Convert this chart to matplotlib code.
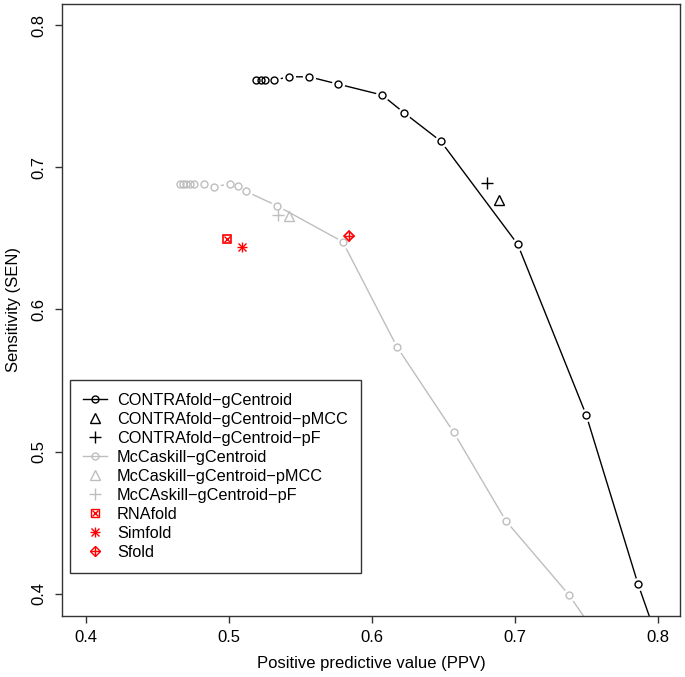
import matplotlib
matplotlib.use("Agg")
import matplotlib.pyplot as plt
from matplotlib.lines import Line2D
from matplotlib.legend_handler import HandlerTuple

plt.rcParams['font.family'] = ['Liberation Sans', 'DejaVu Sans']

# CONTRAfold-gCentroid curve (PPV, SEN)
contra_ppv = [0.5189, 0.5224, 0.5252, 0.5315, 0.542, 0.556, 0.5762, 0.607, 0.6224, 0.648, 0.7019, 0.7497, 0.786, 0.801]
contra_sen = [0.7613, 0.7613, 0.7613, 0.7613, 0.7636, 0.7636, 0.7585, 0.7508, 0.7383, 0.7184, 0.6458, 0.526, 0.407, 0.364]
contra_pmcc = (0.689, 0.677)
contra_pf = (0.6802, 0.6891)

# McCaskill-gCentroid curve
mcc_ppv = [0.4657, 0.4678, 0.4699, 0.4727, 0.4755, 0.4827, 0.4895, 0.5007, 0.506, 0.5119, 0.5336, 0.5795, 0.6175, 0.657, 0.6937, 0.7378, 0.759]
mcc_sen = [0.6882, 0.6882, 0.6882, 0.6882, 0.6882, 0.6882, 0.6863, 0.6882, 0.687, 0.683, 0.6729, 0.6476, 0.5736, 0.5138, 0.4512, 0.3992, 0.368]
mcc_pmcc = (0.5417, 0.666)
mcc_pf = (0.534, 0.6665)

rnafold = (0.4988, 0.6495)
simfold = (0.5089, 0.6441)
sfold = (0.5839, 0.6516)

labels = ["CONTRAfold\u2212gCentroid", "CONTRAfold\u2212gCentroid\u2212pMCC", "CONTRAfold\u2212gCentroid\u2212pF",
          "McCaskill\u2212gCentroid", "McCaskill\u2212gCentroid\u2212pMCC", "McCAskill\u2212gCentroid\u2212pF",
          "RNAfold", "Simfold", "Sfold"]

GRAY = "#BEBEBE"
RED = "#FF0000"

fig = plt.figure(figsize=(6.85, 6.77), dpi=100)
ax = fig.add_axes([62/685, 61/677, 618/685, 612/677])

ms = 5
# lines
ax.plot(contra_ppv, contra_sen, color="black", lw=1.0, zorder=2)
ax.plot(mcc_ppv, mcc_sen, color=GRAY, lw=1.0, zorder=2)
# white masks to create gaps like R type="b"
ax.plot(contra_ppv, contra_sen, ls="none", marker="o", ms=9.5, mfc="white", mec="none", zorder=3)
ax.plot(mcc_ppv, mcc_sen, ls="none", marker="o", ms=9.5, mfc="white", mec="none", zorder=3)
# markers
ax.plot(contra_ppv, contra_sen, ls="none", marker="o", ms=ms, mfc="none", mec="black", mew=1.0, zorder=4)
ax.plot(mcc_ppv, mcc_sen, ls="none", marker="o", ms=ms, mfc="none", mec=GRAY, mew=1.0, zorder=4)

ax.plot([contra_pmcc[0]], [contra_pmcc[1]], ls="none", marker="^", ms=6.5, mfc="none", mec="black", mew=1.0, zorder=4)
ax.plot([contra_pf[0]], [contra_pf[1]], ls="none", marker="+", ms=8, mec="black", mew=1.0, zorder=4)
ax.plot([mcc_pmcc[0]], [mcc_pmcc[1]], ls="none", marker="^", ms=6.5, mfc="none", mec=GRAY, mew=1.0, zorder=4)
ax.plot([mcc_pf[0]], [mcc_pf[1]], ls="none", marker="+", ms=8, mec=GRAY, mew=1.0, zorder=4)

# RNAfold: square with cross
ax.plot([rnafold[0]], [rnafold[1]], ls="none", marker="s", ms=5.5, mfc="none", mec=RED, mew=1.2, zorder=5)
ax.plot([rnafold[0]], [rnafold[1]], ls="none", marker="x", ms=4, mec=RED, mew=1.0, zorder=5)
# Simfold: asterisk
ax.plot([simfold[0]], [simfold[1]], ls="none", marker="+", ms=7, mec=RED, mew=1.0, zorder=5)
ax.plot([simfold[0]], [simfold[1]], ls="none", marker="x", ms=5.5, mec=RED, mew=1.0, zorder=5)
# Sfold: diamond with plus
ax.plot([sfold[0]], [sfold[1]], ls="none", marker="D", ms=5.5, mfc="none", mec=RED, mew=1.2, zorder=5)
ax.plot([sfold[0]], [sfold[1]], ls="none", marker="+", ms=7, mec=RED, mew=1.0, zorder=5)

ax.set_xlim(0.3832, 0.8154)
ax.set_ylim(0.3844, 0.8148)
ax.set_xticks([0.4, 0.5, 0.6, 0.7, 0.8])
ax.set_yticks([0.4, 0.5, 0.6, 0.7, 0.8])
ax.set_xticklabels(["0.4", "0.5", "0.6", "0.7", "0.8"])
ax.set_yticklabels(["0.4", "0.5", "0.6", "0.7", "0.8"], rotation=90, va="center")
ax.tick_params(direction="out", length=5, width=1, labelsize=12, color="#333333")
ax.tick_params(axis="x", pad=5)
ax.tick_params(axis="y", pad=6)
for s in ax.spines.values():
    s.set_linewidth(1.0)
    s.set_color("#333333")
ax.set_xlabel("Positive predictive value (PPV)", fontsize=12, labelpad=8)
ax.set_ylabel("Sensitivity (SEN)", fontsize=12, labelpad=8)

# legend handles
h = [
    Line2D([], [], color="black", lw=1.0, marker="o", ms=ms, mfc="none", mec="black"),
    Line2D([], [], ls="none", marker="^", ms=6.5, mfc="none", mec="black"),
    Line2D([], [], ls="none", marker="+", ms=8, mec="black"),
    Line2D([], [], color=GRAY, lw=1.0, marker="o", ms=ms, mfc="none", mec=GRAY),
    Line2D([], [], ls="none", marker="^", ms=6.5, mfc="none", mec=GRAY),
    Line2D([], [], ls="none", marker="+", ms=8, mec=GRAY),
    (Line2D([], [], ls="none", marker="s", ms=5.5, mfc="none", mec=RED, mew=1.0),
     Line2D([], [], ls="none", marker="x", ms=4, mec=RED, mew=1.0)),
    (Line2D([], [], ls="none", marker="+", ms=7, mec=RED),
     Line2D([], [], ls="none", marker="x", ms=5.5, mec=RED)),
    (Line2D([], [], ls="none", marker="D", ms=5.5, mfc="none", mec=RED, mew=1.0),
     Line2D([], [], ls="none", marker="+", ms=7, mec=RED)),
]
leg = ax.legend(h, labels, loc="lower left", bbox_to_anchor=(8/618, 43/612), borderaxespad=0,
                fontsize=11.7, frameon=True, fancybox=False, framealpha=1, edgecolor="#333333",
                handlelength=1.5, handletextpad=0.6, labelspacing=0.25, borderpad=0.8,
                handler_map={tuple: HandlerTuple(ndivide=1, pad=0)})
leg.get_frame().set_linewidth(1.0)

fig.savefig("out.png", dpi=100)
